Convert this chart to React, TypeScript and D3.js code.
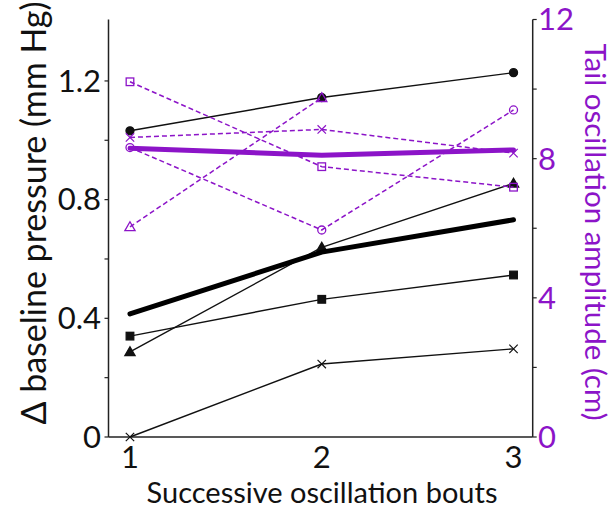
import React from "react";
import * as d3 from "d3";

// Successive oscillation bouts
const bouts = [1, 2, 3];
const boutLabels = ["1", "2", "3"];

// Δ baseline pressure (mm Hg), individual animals
const pressureCircle = [1.032, 1.144, 1.228];
const pressureTriangle = [0.287, 0.639, 0.855];
const pressureSquare = [0.34, 0.464, 0.546];
const pressureCross = [0, 0.246, 0.297];
const pressureMean = [0.415, 0.623, 0.732];

// Tail oscillation amplitude (cm), individual animals
const ampSquare = [10.21, 7.77, 7.18];
const ampCross = [8.61, 8.84, 8.16];
const ampCircle = [8.32, 5.95, 9.4];
const ampTriangle = [6.04, 9.75];
const ampMean = [8.3, 8.1, 8.25];

const leftTicks = [0, 0.4, 0.8, 1.2];
const leftTickLabels = ["0", "0.4", "0.8", "1.2"];
const leftMinor = [0.2, 0.6, 1.0];
const rightTicks = [0, 4, 8, 12];
const rightMinor = [2, 6, 10];

const W = 616;
const H = 510;
const PURPLE = "#8c14c8";
const FONT = "Lato, 'Open Sans', sans-serif";

const x = d3.scaleLinear().domain([0.888, 3.1]).range([108.5, 532.7]);
const yL = d3.scaleLinear().domain([0, 1.4]).range([437, 21.6]);
const yR = d3.scaleLinear().domain([0, 12]).range([437, 19.5]);

type Marker = "circle" | "triangle" | "square" | "cross";

function MarkerShape({ kind, cx, cy, color, filled }: { kind: Marker; cx: number; cy: number; color: string; filled: boolean }) {
  const fill = filled ? color : "none";
  const sw = 1.3;
  if (kind === "circle") return <circle cx={cx} cy={cy} r={4} fill={filled ? color : "white"} fillOpacity={filled ? 1 : 0} stroke={color} strokeWidth={sw} />;
  if (kind === "square") return <rect x={cx - 3.8} y={cy - 3.8} width={7.6} height={7.6} fill={fill} stroke={color} strokeWidth={sw} />;
  if (kind === "triangle") {
    const p = d3.symbol().type(d3.symbolTriangle).size(45)();
    return <path d={p || ""} transform={`translate(${cx},${cy + 0.8})`} fill={fill} stroke={color} strokeWidth={sw} />;
  }
  const s = 4.2;
  return <path d={`M${cx - s},${cy - s}L${cx + s},${cy + s}M${cx - s},${cy + s}L${cx + s},${cy - s}`} stroke={color} strokeWidth={1.2} fill="none" />;
}

function Series({ values, scale, color, width, dash, marker, filled }: {
  values: number[]; scale: d3.ScaleLinear<number, number>; color: string; width: number; dash?: string; marker?: Marker; filled?: boolean;
}) {
  const line = d3.line<number>().x((_, i) => x(bouts[i])).y((v) => scale(v));
  return (
    <g>
      <path d={line(values) || ""} fill="none" stroke={color} strokeWidth={width} strokeDasharray={dash} strokeLinecap={marker ? "butt" : "round"} strokeLinejoin="round" />
      {marker && values.map((v, i) => (
        <MarkerShape key={i} kind={marker} cx={x(bouts[i])} cy={scale(v)} color={color} filled={!!filled} />
      ))}
    </g>
  );
}

export default function App() {
  const axisColor = "#222";
  return (
    <svg width={W} height={H} style={{ position: "absolute", left: 0, top: 0, background: "white" }} fontFamily={FONT}>
      {/* axes frame */}
      <line x1={x.range()[0]} x2={x.range()[0]} y1={19.5} y2={437} stroke={axisColor} strokeWidth={1.5} />
      <line x1={x.range()[1]} x2={x.range()[1]} y1={19.5} y2={437} stroke={axisColor} strokeWidth={1.5} />
      <line x1={x.range()[0]} x2={x.range()[1]} y1={437} y2={437} stroke={axisColor} strokeWidth={1.5} />

      {/* left axis ticks */}
      {leftTicks.map((t, i) => (
        <g key={t}>
          <line x1={x.range()[0] - 4} x2={x.range()[0]} y1={yL(t)} y2={yL(t)} stroke={axisColor} strokeWidth={1.2} />
          <text x={101} y={yL(t)} dy="0.35em" textAnchor="end" fontSize={31} fill="#111">{leftTickLabels[i]}</text>
        </g>
      ))}
      {leftMinor.map((t) => (
        <line key={t} x1={x.range()[0] - 4} x2={x.range()[0]} y1={yL(t)} y2={yL(t)} stroke={axisColor} strokeWidth={1.2} />
      ))}

      {/* right axis ticks */}
      {rightTicks.map((t) => (
        <g key={t}>
          <line x1={x.range()[1]} x2={x.range()[1] + 4} y1={yR(t)} y2={yR(t)} stroke={axisColor} strokeWidth={1.2} />
          <text x={538} y={yR(t)} dy="0.35em" textAnchor="start" fontSize={31} fill={PURPLE}>{t}</text>
        </g>
      ))}
      {rightMinor.map((t) => (
        <line key={t} x1={x.range()[1]} x2={x.range()[1] + 4} y1={yR(t)} y2={yR(t)} stroke={axisColor} strokeWidth={1.2} />
      ))}

      {/* bottom tick labels */}
      {bouts.map((b, i) => (
        <text key={b} x={x(b)} y={468} textAnchor="middle" fontSize={31} fill="#111">{boutLabels[i]}</text>
      ))}

      {/* axis titles */}
      <text x={322} y={503} textAnchor="middle" fontSize={29} fill="#111">Successive oscillation bouts</text>
      <text transform={`translate(46,213) rotate(-90)`} textAnchor="middle" fontSize={34} fill="#111">Δ baseline pressure (mm Hg)</text>
      <text transform={`translate(585,232) rotate(90)`} textAnchor="middle" fontSize={29.5} fill={PURPLE}>Tail oscillation amplitude (cm)</text>

      {/* pressure: individuals and mean */}
      <Series values={pressureCircle} scale={yL} color="#111" width={1.4} marker="circle" filled />
      <Series values={pressureTriangle} scale={yL} color="#111" width={1.4} marker="triangle" filled />
      <Series values={pressureSquare} scale={yL} color="#111" width={1.4} marker="square" filled />
      <Series values={pressureCross} scale={yL} color="#111" width={1.4} marker="cross" />
      <Series values={pressureMean} scale={yL} color="#000" width={5} />

      {/* tail amplitude: individuals and mean */}
      <Series values={ampSquare} scale={yR} color={PURPLE} width={1.5} dash="5,3" marker="square" />
      <Series values={ampCross} scale={yR} color={PURPLE} width={1.5} dash="5,3" marker="cross" />
      <Series values={ampCircle} scale={yR} color={PURPLE} width={1.5} dash="5,3" marker="circle" />
      <Series values={ampTriangle} scale={yR} color={PURPLE} width={1.5} dash="5,3" marker="triangle" />
      <Series values={ampMean} scale={yR} color={PURPLE} width={5} />
    </svg>
  );
}
